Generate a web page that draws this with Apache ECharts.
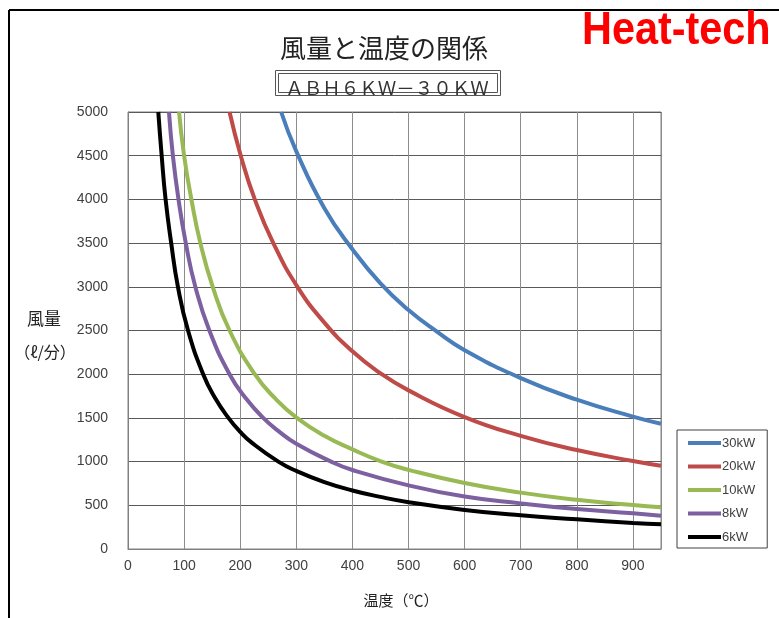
<!DOCTYPE html>
<html>
<head>
<meta charset="utf-8">
<script src="https://cdn.jsdelivr.net/npm/echarts@6/dist/echarts.min.js"></script>
<style>
  html, body { margin: 0; padding: 0; background: #fff; }
  #chart { width: 779px; height: 618px; }
</style>
</head>
<body>
<div id="chart"></div>
<script>
// Airflow (l/min) against outlet temperature (°C) for each heater rating
const seriesNames = ['30kW', '20kW', '10kW', '8kW', '6kW'];

const temp30 = [273, 300, 350, 400, 450, 500, 550, 600, 700, 800, 900, 950];
const flow30 = [5000, 4550, 3900, 3430, 3040, 2734, 2490, 2275, 1955, 1708, 1515, 1433];

const temp20 = [181, 201, 226, 259, 302, 350, 400, 450, 500, 600, 700, 800, 900, 950];
const flow20 = [5000, 4500, 4000, 3500, 3000, 2590, 2262, 2010, 1815, 1510, 1295, 1132, 1007, 952];

const temp10 = [91, 100, 113, 129, 151, 181, 226, 262, 301, 350, 400, 452, 500, 600, 700, 800, 900, 950];
const flow10 = [5000, 4500, 4000, 3500, 3000, 2500, 2000, 1725, 1500, 1295, 1140, 1000, 906, 755, 645, 563, 503, 478];

const temp8 = [73, 80, 90, 103, 120, 145, 181, 210, 241, 270, 300, 362, 400, 500, 600, 700, 800, 900, 950];
const flow8 = [5000, 4500, 4000, 3500, 3000, 2500, 2000, 1724, 1500, 1340, 1205, 1000, 904, 728, 600, 522, 457, 408, 381];

const temp6 = [54, 60, 67, 77, 89, 107, 134, 155, 179, 200, 220, 268, 300, 350, 400, 450, 500, 600, 700, 800, 900, 950];
const flow6 = [5000, 4500, 4000, 3500, 3000, 2500, 2000, 1730, 1500, 1340, 1220, 1000, 893, 766, 670, 596, 536, 447, 385, 340, 298, 283];

const colors = ['#4a7ebb', '#be4b48', '#98b954', '#7d60a0', '#000000'];

function pairs(t, q) { return t.map((v, i) => [v, q[i]]); }
const seriesData = [
  pairs(temp30, flow30),
  pairs(temp20, flow20),
  pairs(temp10, flow10),
  pairs(temp8, flow8),
  pairs(temp6, flow6)
];

const chart = echarts.init(document.getElementById('chart'), null, { renderer: 'canvas' });

const labelFont = "'Liberation Sans', 'DejaVu Sans', sans-serif";
const cjkFont = "'Noto Sans CJK JP', 'Noto Sans', sans-serif";

chart.setOption({
  animation: false,
  backgroundColor: '#ffffff',
  grid: {
    left: 128, top: 112, right: 118, bottom: 69,
    show: true, borderColor: '#808080', borderWidth: 1
  },
  xAxis: {
    type: 'value', min: 0, max: 950, interval: 100,
    axisLine: { show: true, lineStyle: { color: '#808080', width: 1 } },
    axisTick: { show: false },
    axisLabel: {
      color: '#404040', fontSize: 14, fontFamily: labelFont, margin: 10,
      formatter: v => (v > 900 ? '' : String(v))
    },
    splitLine: { show: true, lineStyle: { color: '#8c8c8c', width: 1 } }
  },
  yAxis: {
    type: 'value', min: 0, max: 5000, interval: 500,
    axisLine: { show: true, lineStyle: { color: '#808080', width: 1 } },
    axisTick: { show: false },
    axisLabel: {
      color: '#404040', fontSize: 14, fontFamily: labelFont, margin: 20,
      formatter: v => String(v)
    },
    splitLine: { show: true, lineStyle: { color: '#595959', width: 1 } }
  },
  legend: {
    orient: 'vertical',
    left: 677, top: 430,
    width: 100,
    padding: [6, 12, 4, 11],
    backgroundColor: '#ffffff',
    borderColor: '#404040', borderWidth: 1,
    icon: 'rect',
    itemWidth: 33, itemHeight: 4, itemGap: 9.5,
    textStyle: { color: '#404040', fontSize: 13, fontFamily: labelFont, lineHeight: 14, padding: [0, 0, 0, -4] },
    data: seriesNames
  },
  series: seriesNames.map((name, i) => ({
    name: name,
    type: 'line',
    data: seriesData[i],
    smooth: 0.5,
    showSymbol: false,
    clip: true,
    color: colors[i],
    lineStyle: { color: colors[i], width: 4 },
    z: 10 - i
  })),
  graphic: [
    // outer frame
    { type: 'line', shape: { x1: 9, y1: 10, x2: 779, y2: 10 }, style: { stroke: '#000', lineWidth: 2 } },
    { type: 'line', shape: { x1: 9, y1: 10, x2: 9, y2: 618 }, style: { stroke: '#000', lineWidth: 2 } },
    // brand mark
    {
      type: 'text', x: 582, y: 31, scaleX: 0.9,
      style: {
        text: 'Heat-tech', fill: '#ff0000', textVerticalAlign: 'middle',
        font: "bold 46px 'Liberation Sans', sans-serif"
      }
    },
    // chart title
    {
      type: 'text', x: 384, y: 48,
      style: {
        text: '風量と温度の関係', fill: '#222', textAlign: 'center', textVerticalAlign: 'middle',
        font: "26px " + cjkFont
      }
    },
    // model box with double border
    { type: 'rect', shape: { x: 275.5, y: 70.5, width: 225, height: 25 }, style: { fill: '#fff', stroke: '#555', lineWidth: 1 } },
    { type: 'rect', shape: { x: 278.5, y: 73.5, width: 219, height: 19 }, style: { fill: 'none', stroke: '#555', lineWidth: 1 } },
    {
      type: 'text', x: 387, y: 88,
      style: {
        text: 'ＡＢＨ６ＫＷ－３０ＫＷ', fill: '#333', textAlign: 'center', textVerticalAlign: 'middle',
        font: "18.5px " + cjkFont
      }
    },
    // y-axis title
    {
      type: 'text', x: 44, y: 319,
      style: { text: '風量', fill: '#222', textAlign: 'center', textVerticalAlign: 'middle', font: "17px " + cjkFont }
    },
    {
      type: 'text', x: 45, y: 352,
      style: { text: '（ℓ/分）', fill: '#222', textAlign: 'center', textVerticalAlign: 'middle', font: "16px " + cjkFont }
    },
    // x-axis title
    {
      type: 'text', x: 401, y: 600,
      style: { text: '温度（℃）', fill: '#222', textAlign: 'center', textVerticalAlign: 'middle', font: "15px " + cjkFont }
    }
  ]
});
</script>
</body>
</html>
